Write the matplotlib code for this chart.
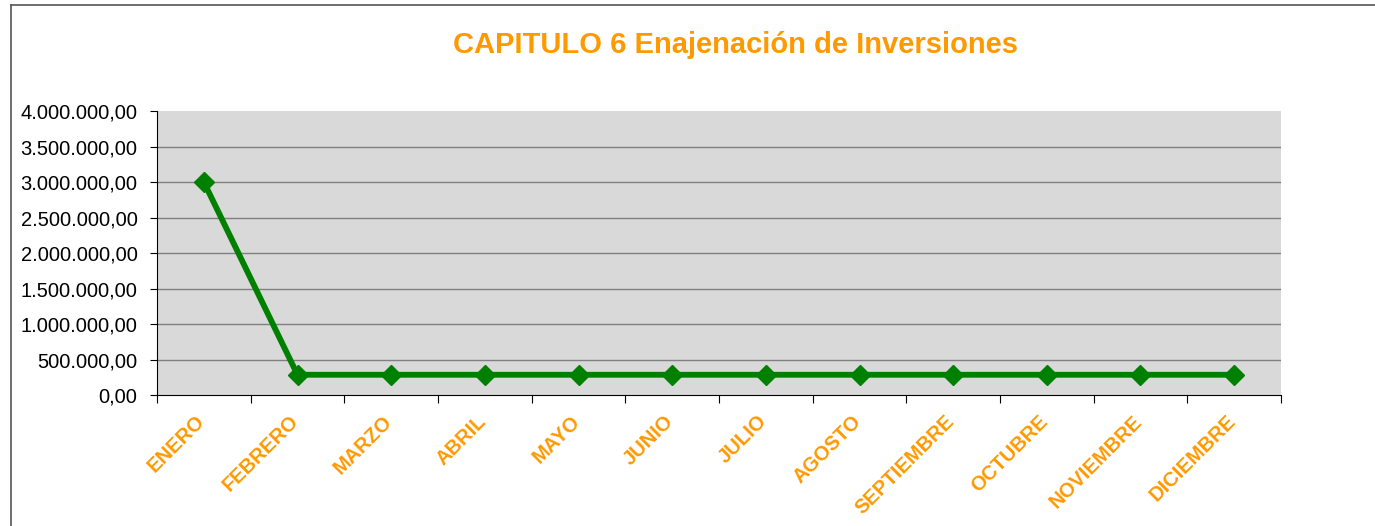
import matplotlib
matplotlib.use('Agg')
import matplotlib.pyplot as plt
import matplotlib.ticker as mtick
import matplotlib.transforms as mtrans
from matplotlib.lines import Line2D

plt.rcParams['font.family'] = ['Liberation Sans', 'DejaVu Sans']

# datos
meses = ['ENERO', 'FEBRERO', 'MARZO', 'ABRIL', 'MAYO', 'JUNIO', 'JULIO',
         'AGOSTO', 'SEPTIEMBRE', 'OCTUBRE', 'NOVIEMBRE', 'DICIEMBRE']
importes = [3000000, 285000, 285000, 285000, 285000, 285000, 285000,
            285000, 285000, 285000, 285000, 285000]
titulo = 'CAPITULO 6 Enajenación de Inversiones'
Y_MAX = 4000000

NARANJA = '#FF9900'
VERDE = '#008000'

def fmt_es(x, _):
    s = f'{x:,.2f}'
    return s.replace(',', 'X').replace('.', ',').replace('X', '.')

fig = plt.figure(figsize=(13.75, 5.26), dpi=100)
ax = fig.add_axes([157/1375, 1 - 395/526, (1281 - 157)/1375, (395 - 111)/526])
ax.set_facecolor('#D9D9D9')

x = list(range(len(meses)))
ax.plot(x, importes, color=VERDE, linewidth=4.2, marker='D', markersize=10.5,
        markerfacecolor=VERDE, markeredgecolor=VERDE, zorder=3)

ax.set_xlim(-0.5, len(meses) - 0.5)
ax.set_ylim(0, Y_MAX)
ax.yaxis.set_major_locator(mtick.MultipleLocator(500000))
ax.yaxis.set_major_formatter(mtick.FuncFormatter(fmt_es))
# rejilla horizontal sin la linea del borde superior
for v in ax.get_yticks():
    if 0 < v < Y_MAX:
        ax.axhline(v, color='#808080', linewidth=1.0, zorder=1)

# ticks en los limites de cada categoria, etiquetas en el centro
ax.set_xticks([i - 0.5 for i in range(len(meses) + 1)])
ax.set_xticklabels([])
ax.set_xticks(x, minor=True)
ax.set_xticklabels(meses, minor=True, rotation=45, ha='right', va='top',
                   color=NARANJA, fontweight='bold', fontsize=14.5)
ax.tick_params(axis='x', which='minor', length=0, pad=12)
ax.tick_params(axis='x', which='major', length=6, direction='out', color='black')
ax.tick_params(axis='y', length=5, direction='out', labelsize=14.5, pad=9)

offset = mtrans.ScaledTranslation(5/100, 0, fig.dpi_scale_trans)
for lbl in ax.get_xticklabels(minor=True):
    lbl.set_transform(lbl.get_transform() + offset)

for side in ['top', 'right']:
    ax.spines[side].set_visible(False)
ax.spines['left'].set_color('black')
ax.spines['bottom'].set_color('black')

fig.text(0.535, 1 - 45/526, titulo, ha='center', va='center',
         color=NARANJA, fontsize=21, fontweight='bold')

# borde del grafico
fig.add_artist(Line2D([11/1375, 11/1375], [0, 1 - 5/526], color='#555555', linewidth=1.2))
fig.add_artist(Line2D([11/1375, 1], [1 - 5/526, 1 - 5/526], color='#555555', linewidth=1.2))

plt.savefig('out.png', dpi=100)
